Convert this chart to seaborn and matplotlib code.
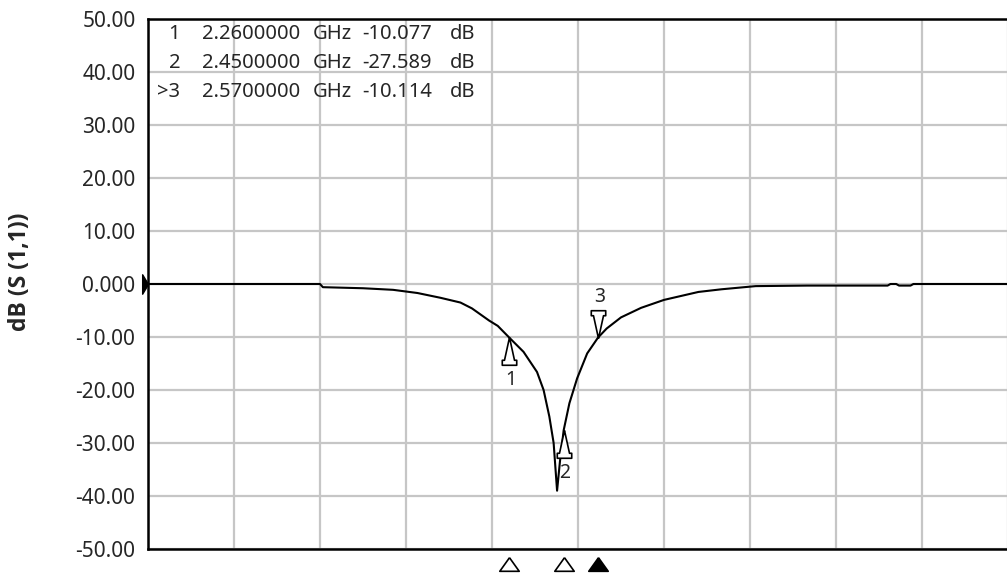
import numpy as np
import pandas as pd
import seaborn as sns
import matplotlib.pyplot as plt
from matplotlib.path import Path
from matplotlib.transforms import blended_transform_factory

# sweep 1 - 4 GHz
freq_ghz = [1.00, 1.30, 1.60, 1.61, 1.75, 1.855, 1.94, 2.02, 2.09, 2.13,
            2.19, 2.22, 2.26, 2.31, 2.357, 2.38, 2.40, 2.415, 2.427, 2.437,
            2.45, 2.47, 2.497, 2.532, 2.57, 2.60, 2.65, 2.72, 2.80, 2.92,
            3.00, 3.12, 3.30, 3.58, 3.59, 3.61, 3.62, 3.66, 3.67, 3.75, 4.00]
s11_db = [0.0, 0.0, 0.0, -0.6, -0.8, -1.1, -1.7, -2.6, -3.5, -4.6,
          -6.9, -7.9, -10.1, -12.8, -16.6, -20.0, -25.0, -30.0, -39.0, -33.5,
          -27.6, -22.5, -17.8, -13.1, -10.1, -8.4, -6.3, -4.5, -3.0, -1.5,
          -1.0, -0.4, -0.3, -0.3, 0.0, 0.0, -0.3, -0.3, 0.0, 0.0, 0.0]

marker_ids = ['1', '2', '3']
marker_freq = [2.26, 2.45, 2.57]
marker_db = [-10.077, -27.589, -10.114]
marker_above = [False, False, True]
active_marker = '3'

y_ticks = [50, 40, 30, 20, 10, 0, -10, -20, -30, -40, -50]
y_tick_labels = ['50.00', '40.00', '30.00', '20.00', '10.00', '0.000',
                 '-10.00', '-20.00', '-30.00', '-40.00', '-50.00']
x_start, x_stop = 1.0, 4.0

sns.set_style('white')
plt.rcParams['font.family'] = ['Noto Sans', 'DejaVu Sans']

df = pd.DataFrame({'freq': freq_ghz, 'db': s11_db})

W, H = 1007, 573
fig = plt.figure(figsize=(W / 100, H / 100), dpi=100)
ax = fig.add_axes([148 / W, 24 / H, 860 / W, 530 / H])

sns.lineplot(data=df, x='freq', y='db', color='black', lw=1.5, ax=ax)

ax.set_xlim(x_start, x_stop)
ax.set_ylim(-50, 50)
ax.set_xticks(np.linspace(x_start, x_stop, 11))
ax.set_xticklabels([])
ax.set_yticks(y_ticks)
ax.set_yticklabels(y_tick_labels, fontsize=15)
ax.tick_params(length=0, pad=9)
ax.grid(True, color='#c6c6c6', lw=1.6)
ax.set_axisbelow(True)
ax.set_xlabel('')
ax.set_ylabel('')
for side in ['left', 'top', 'bottom']:
    ax.spines[side].set_color('black')
    ax.spines[side].set_linewidth(1.8)
ax.spines['right'].set_visible(False)

# marker flags on the trace
up_flag = Path([(0, 0), (-0.18, -0.82), (-0.26, -0.82), (-0.26, -1.0),
                (0.26, -1.0), (0.26, -0.82), (0.18, -0.82), (0, 0)])
down_flag = Path(up_flag.vertices * [1, -1])
for mid, f, db, above in zip(marker_ids, marker_freq, marker_db, marker_above):
    ax.plot([f], [db], marker=down_flag if above else up_flag, ms=40,
            mfc='white', mec='black', mew=1.2, ls='none', zorder=5)
    ax.annotate(mid, xy=(f, db), xytext=(1, 29 if above else -31),
                textcoords='offset points', ha='center', va='center',
                fontsize=14, zorder=6)

# marker positions under the x axis
tri = Path([(0, 0.7), (-1, -0.7), (1, -0.7), (0, 0.7)])
trans_x = blended_transform_factory(ax.transData, ax.transAxes)
for mid, f in zip(marker_ids, marker_freq):
    ax.plot([f], [-0.028], transform=trans_x, marker=tri, ms=14,
            mfc='black' if mid == active_marker else 'white', mec='black',
            mew=1.2, clip_on=False)

# reference level pointer
trans_y = blended_transform_factory(ax.transAxes, ax.transData)
ref = Path([(0, 0), (-0.6, 1), (-0.6, -1), (0, 0)])
ax.plot([0], [0], transform=trans_y, marker=ref, ms=14, mfc='black',
        mec='black', clip_on=False)

# marker readout table
row_y = [34, 63, 92]
for mid, f, db, py in zip(marker_ids, marker_freq, marker_db, row_y):
    yy = 1 - py / H
    tag = '>' + mid if mid == active_marker else mid
    fig.text(180 / W, yy, tag, ha='right', va='center', fontsize=14.5)
    fig.text(202 / W, yy, f'{f:.7f}', ha='left', va='center', fontsize=14.5)
    fig.text(313 / W, yy, 'GHz', ha='left', va='center', fontsize=14.5)
    fig.text(362 / W, yy, f'{db:.3f}', ha='left', va='center', fontsize=14.5)
    fig.text(450 / W, yy, 'dB', ha='left', va='center', fontsize=14.5)

fig.text(20 / W, 1 - 272 / H, 'dB (S (1,1))', rotation=90, ha='center',
         va='center', fontsize=16.5, fontweight='bold',
         family=['Open Sans', 'DejaVu Sans'])

fig.savefig('out.png', dpi=100)
